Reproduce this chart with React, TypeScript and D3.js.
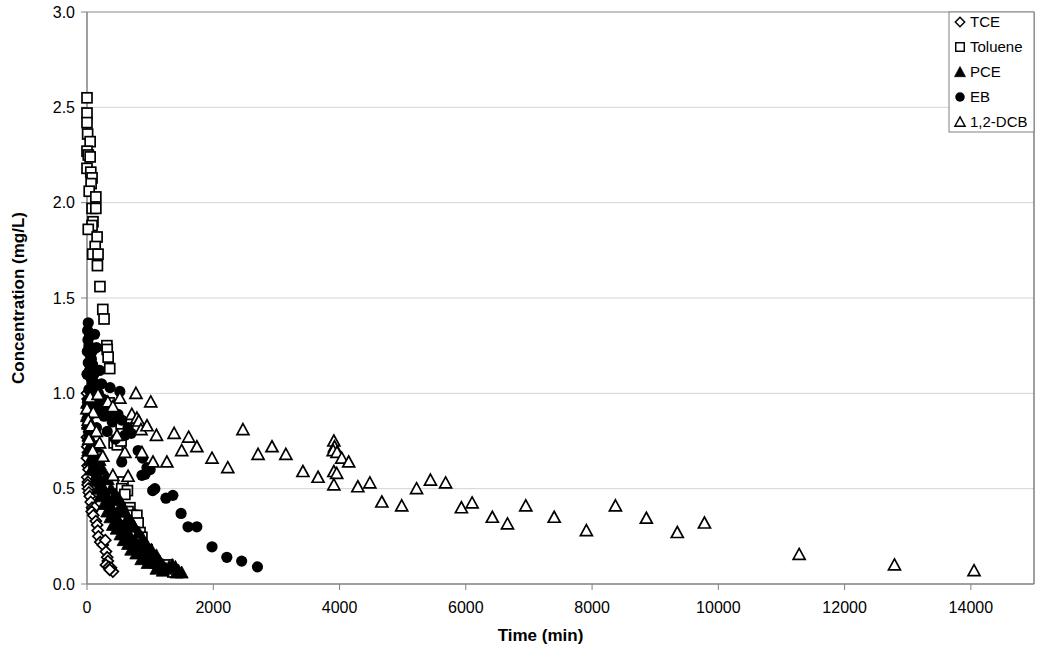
import React from "react";
import * as d3 from "d3";

// ---- Data: [time (min), concentration (mg/L)] ----
const tce: [number, number][] = [
  [0, 1.0], [10, 0.97], [20, 0.95], [5, 0.93], [30, 0.92], [15, 0.9], [40, 0.88], [0, 0.86],
  [25, 0.84], [10, 0.82], [35, 0.8], [0, 0.77], [20, 0.75], [5, 0.72], [15, 0.69], [0, 0.66],
  [10, 0.62], [25, 0.6], [5, 0.56], [15, 0.535], [10, 0.52], [20, 0.5], [30, 0.48], [45, 0.46],
  [60, 0.43], [80, 0.4], [120, 0.4], [75, 0.38], [100, 0.36], [140, 0.33], [160, 0.31],
  [170, 0.28], [180, 0.25], [210, 0.22], [250, 0.205], [290, 0.23], [300, 0.17], [320, 0.14],
  [330, 0.12], [300, 0.1], [345, 0.09], [380, 0.085], [410, 0.065], [360, 0.075],
];

const toluene: [number, number][] = [
  [0, 2.55], [0, 2.47], [0, 2.42], [10, 2.36], [50, 2.32], [0, 2.27], [20, 2.25], [50, 2.24],
  [0, 2.18], [60, 2.16], [80, 2.13], [65, 2.1], [35, 2.06], [140, 2.03], [80, 1.97], [140, 1.97],
  [95, 1.9], [80, 1.88], [20, 1.86], [160, 1.82], [130, 1.77], [90, 1.73], [175, 1.73],
  [165, 1.67], [205, 1.56], [250, 1.44], [270, 1.39], [315, 1.25], [320, 1.23], [335, 1.19],
  [360, 1.13], [350, 0.95], [470, 0.87], [540, 0.84], [430, 0.74], [480, 0.73], [540, 0.75],
  [570, 0.535], [550, 0.5], [640, 0.49], [600, 0.47], [680, 0.4], [650, 0.38], [710, 0.36],
  [790, 0.36], [810, 0.32], [840, 0.27], [870, 0.245], [950, 0.18], [1280, 0.1], [1360, 0.063],
];

const pce: [number, number][] = [
  [0, 0.95], [10, 0.92], [20, 0.9], [0, 0.88], [30, 0.86], [15, 0.84], [40, 0.82], [50, 0.8],
  [25, 0.78], [60, 0.76], [70, 0.74], [45, 0.72], [90, 0.7], [100, 0.68], [80, 0.66],
  [120, 0.64], [140, 0.62], [110, 0.6], [160, 0.58], [180, 0.56], [200, 0.54], [230, 0.52],
  [260, 0.5], [240, 0.48], [300, 0.47], [330, 0.45], [350, 0.42], [390, 0.4], [420, 0.38],
  [450, 0.36], [480, 0.34], [520, 0.32], [560, 0.3], [600, 0.28], [640, 0.27], [680, 0.25],
  [720, 0.23], [760, 0.22], [800, 0.2], [850, 0.19], [900, 0.17], [950, 0.15], [1000, 0.13],
  [1050, 0.12], [1100, 0.11], [1200, 0.1], [1300, 0.09], [1400, 0.09], [1500, 0.06], [1450, 0.07],
  [280, 0.55], [380, 0.5], [450, 0.47], [500, 0.45], [550, 0.42], [600, 0.38], [650, 0.35],
  [700, 0.33], [750, 0.3], [820, 0.27], [880, 0.24], [940, 0.21], [1020, 0.18], [1100, 0.15],
  [1150, 0.12], [1250, 0.08], [1350, 0.1], [1420, 0.06],
  [20, 0.7], [50, 0.65], [70, 0.6], [130, 0.55], [170, 0.5], [210, 0.46], [270, 0.42],
  [320, 0.38], [370, 0.35], [410, 0.31], [470, 0.29], [530, 0.26], [580, 0.23], [650, 0.21],
  [700, 0.18], [780, 0.16], [860, 0.13], [960, 0.11], [1100, 0.08], [1200, 0.07],
  [150, 0.72], [200, 0.65], [250, 0.6], [330, 0.55], [400, 0.44], [520, 0.38], [620, 0.31],
];

const eb: [number, number][] = [
  [20, 1.37], [10, 1.33], [15, 1.28], [120, 1.31], [30, 1.25], [5, 1.22], [50, 1.2], [150, 1.24],
  [70, 1.18], [20, 1.16], [90, 1.15], [40, 1.12], [110, 1.1], [60, 1.08], [200, 1.12], [80, 1.05],
  [130, 1.04], [30, 1.02], [180, 1.0], [365, 1.03], [520, 1.01], [100, 0.98], [250, 0.97],
  [150, 0.95], [300, 0.93], [200, 0.92], [60, 0.9], [350, 0.9], [490, 0.89], [270, 0.88],
  [550, 0.86], [400, 0.85], [650, 0.82], [700, 0.79], [600, 0.78], [320, 0.8], [150, 0.82],
  [450, 0.76], [810, 0.7], [880, 0.66], [550, 0.64], [1000, 0.6], [950, 0.61], [870, 0.57],
  [920, 0.575], [1075, 0.5], [1040, 0.49], [1250, 0.45], [1360, 0.465], [1490, 0.37],
  [1600, 0.3], [1740, 0.3], [1980, 0.195], [2215, 0.14], [2450, 0.12], [2700, 0.09],
  [40, 1.3], [80, 1.22], [0, 1.1], [100, 1.06], [230, 1.05], [10, 0.96], [130, 0.9],
];

const dcb: [number, number][] = [
  [50, 0.98], [175, 0.995], [330, 0.955], [520, 0.975], [410, 0.93], [0, 0.92], [100, 0.9],
  [20, 0.86], [60, 0.83], [150, 0.8], [30, 0.76], [200, 0.74], [90, 0.7], [250, 0.67],
  [475, 0.78], [600, 0.69], [410, 0.57], [650, 0.565], [710, 0.89], [775, 1.0], [790, 0.87],
  [820, 0.855], [855, 0.81], [870, 0.69], [950, 0.83], [1010, 0.955], [1045, 0.64], [1100, 0.78],
  [1265, 0.64], [1380, 0.79], [1500, 0.7], [1610, 0.77], [1740, 0.72], [1980, 0.66], [2230, 0.61],
  [2470, 0.81], [2710, 0.68], [2930, 0.72], [3150, 0.68], [3420, 0.59], [3660, 0.56], [3910, 0.75],
  [3920, 0.72], [3900, 0.7], [3960, 0.69], [4035, 0.66], [4145, 0.64], [3910, 0.59], [3955, 0.58],
  [3910, 0.52], [4290, 0.51], [4480, 0.53], [4670, 0.43], [4985, 0.41], [5220, 0.5], [5440, 0.545],
  [5680, 0.53], [5930, 0.4], [6100, 0.425], [6420, 0.35], [6660, 0.315], [6950, 0.41], [7400, 0.35],
  [7910, 0.28], [8370, 0.41], [8860, 0.345], [9350, 0.27], [9780, 0.32], [11280, 0.155],
  [12790, 0.1], [14050, 0.07],
];

const xTicks = [0, 2000, 4000, 6000, 8000, 10000, 12000, 14000];
const yTicks = [0, 0.5, 1.0, 1.5, 2.0, 2.5, 3.0];
const seriesNames = ["TCE", "Toluene", "PCE", "EB", "1,2-DCB"];

type Shape = "diamond" | "square" | "triangleFilled" | "circle" | "triangleOpen";
const seriesShapes: Shape[] = ["diamond", "square", "triangleFilled", "circle", "triangleOpen"];
const seriesData = [tce, toluene, pce, eb, dcb];

const FONT = "'Liberation Sans', Arial, Helvetica, sans-serif";

function Marker({ shape, x, y }: { shape: Shape; x: number; y: number }) {
  const sw = 1.7;
  switch (shape) {
    case "diamond": {
      const r = 5.5;
      return (
        <path
          d={`M${x},${y - r}L${x + r},${y}L${x},${y + r}L${x - r},${y}Z`}
          fill="white" stroke="black" strokeWidth={sw}
        />
      );
    }
    case "square":
      return <rect x={x - 5} y={y - 5} width={10} height={10} fill="white" stroke="black" strokeWidth={sw} />;
    case "circle":
      return <circle cx={x} cy={y} r={5.6} fill="black" />;
    case "triangleFilled":
      return <path d={`M${x},${y - 6.5}L${x + 6.5},${y + 5.5}L${x - 6.5},${y + 5.5}Z`} fill="black" stroke="black" strokeWidth={0.8} />;
    case "triangleOpen":
      return <path d={`M${x},${y - 6}L${x + 6},${y + 5}L${x - 6},${y + 5}Z`} fill="white" stroke="black" strokeWidth={sw} strokeLinejoin="miter" />;
  }
}

export default function App() {
  const W = 1050, H = 659;
  const left = 87, right = 1034, top = 12, bottom = 584;
  const x = d3.scaleLinear().domain([0, 15000]).range([left, right]);
  const y = d3.scaleLinear().domain([0, 3]).range([bottom, top]);

  const legendX = 949, legendY = 12, legendW = right - 949, legendH = 120;
  const legendRows = [22, 47, 72, 97, 122];

  return (
    <svg width={W} height={H} style={{ position: "absolute", left: 0, top: 0, background: "white" }}
      fontFamily={FONT}>
      <rect x={0} y={0} width={W} height={H} fill="white" />
      {/* gridlines */}
      {yTicks.filter((t) => t > 0).map((t) => (
        <line key={t} x1={left} x2={right} y1={y(t)} y2={y(t)} stroke="#d4d4d4" strokeWidth={1} />
      ))}
      {/* plot border */}
      <line x1={left} x2={right} y1={top} y2={top} stroke="#a0a0a0" />
      <line x1={right} x2={right} y1={top} y2={bottom} stroke="#808080" strokeWidth={1.5} />
      {/* axes */}
      <line x1={left} x2={left} y1={top} y2={bottom} stroke="#808080" strokeWidth={1.5} />
      <line x1={left} x2={right} y1={bottom} y2={bottom} stroke="#808080" strokeWidth={1.5} />
      {yTicks.map((t) => (
        <g key={t}>
          <line x1={left - 6} x2={left} y1={y(t)} y2={y(t)} stroke="#808080" />
          <text x={75} y={y(t)} dy="0.35em" textAnchor="end" fontSize={16} fill="black">
            {t.toFixed(1)}
          </text>
        </g>
      ))}
      {xTicks.map((t) => (
        <g key={t}>
          <line x1={x(t)} x2={x(t)} y1={bottom} y2={bottom + 6} stroke="#808080" />
          <text x={x(t)} y={607} dy="0.35em" textAnchor="middle" fontSize={16} fill="black">
            {t}
          </text>
        </g>
      ))}
      {/* axis titles */}
      <text x={(left + right) / 2 - 20} y={635} dy="0.35em" textAnchor="middle" fontSize={17} fontWeight="bold">
        Time (min)
      </text>
      <text transform={`translate(18,${(top + bottom) / 2}) rotate(-90)`} dy="0.35em" textAnchor="middle"
        fontSize={17} fontWeight="bold">
        Concentration (mg/L)
      </text>
      {/* data */}
      {seriesData.map((data, si) => (
        <g key={si}>
          {data.map((d, i) => (
            <Marker key={i} shape={seriesShapes[si]} x={x(d[0])} y={y(d[1])} />
          ))}
        </g>
      ))}
      {/* legend */}
      <rect x={legendX} y={legendY} width={legendW} height={legendH} fill="white" stroke="#808080" />
      {seriesNames.map((n, i) => (
        <g key={n}>
          <g transform={`translate(960,${legendRows[i]}) scale(0.85) translate(-960,${-legendRows[i]})`}>
            <Marker shape={seriesShapes[i]} x={960} y={legendRows[i]} />
          </g>
          <text x={970} y={legendRows[i]} dy="0.35em" fontSize={15} fill="black">
            {n}
          </text>
        </g>
      ))}
    </svg>
  );
}
